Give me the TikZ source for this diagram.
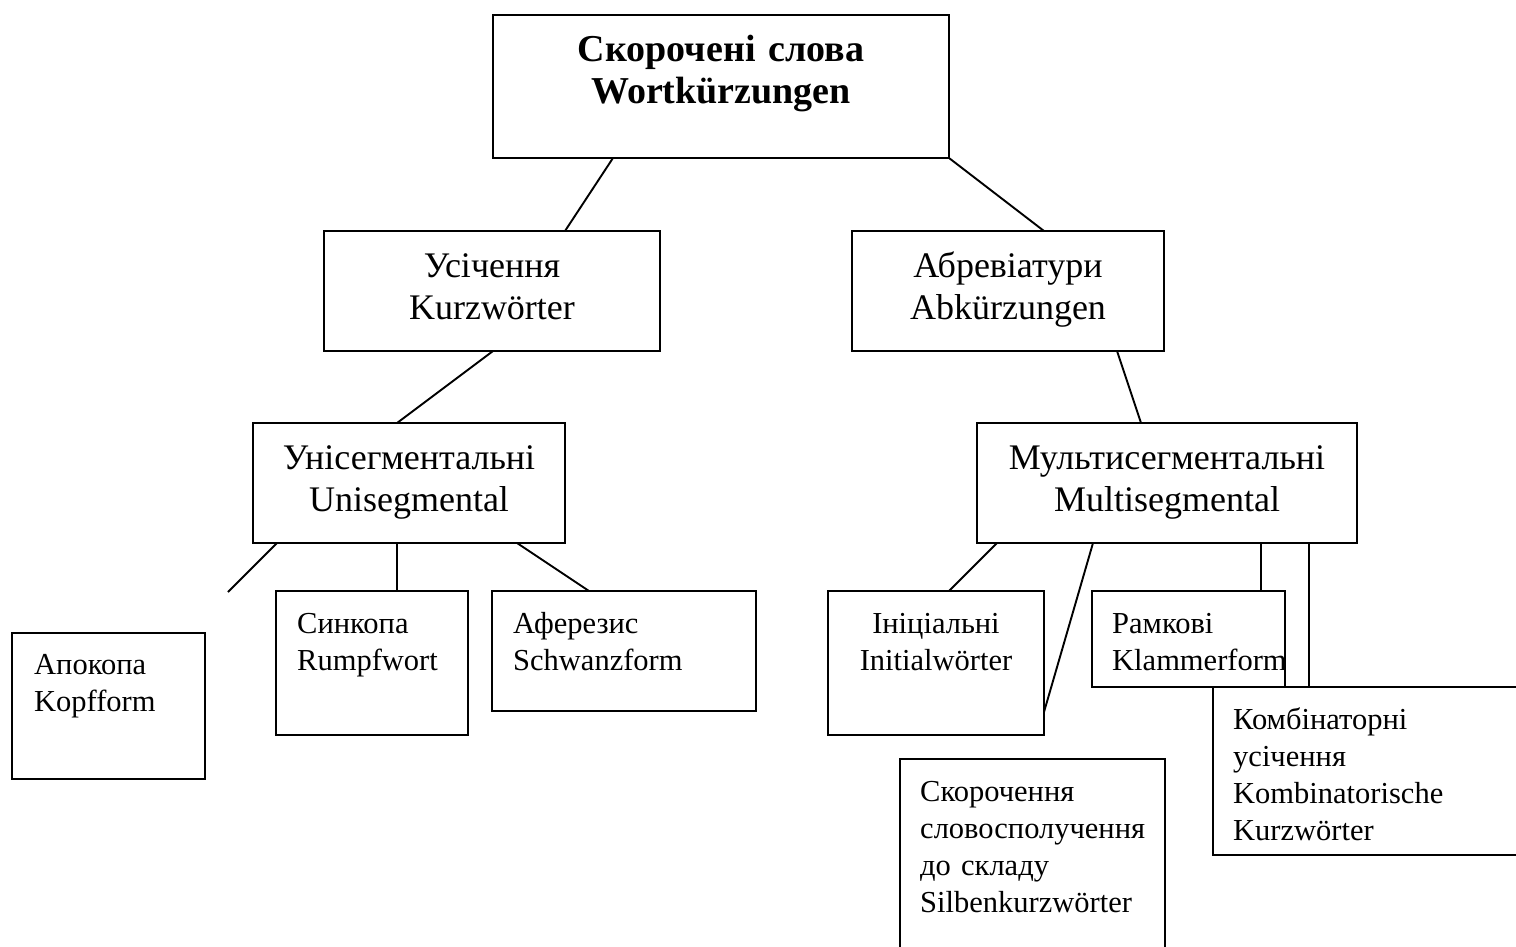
\documentclass[tikz,border=0pt]{standalone}
\usepackage{fontspec}
\setmainfont{Liberation Serif}
\begin{document}
\begin{tikzpicture}[x=1pt,y=-1pt]
\tikzstyle{box}= [rectangle,draw,line width=1.9pt,inner sep=0pt,outer sep=0pt,anchor=north west]
\tikzstyle{link}= [line width=1.9pt]
\tikzstyle{ctxt}= [inner sep=0pt,align=center,anchor=base]
\tikzstyle{ltxt}= [inner sep=0pt,text width=300pt,align=left,anchor=base west,font=\fontsize{30.5}{37}\selectfont]
\tikzstyle{mid}= [font=\fontsize{36}{42}\selectfont]

\useasboundingbox (0,0) rectangle (1516,947);

% boxes
\node[box,minimum width=456pt,minimum height=143pt] (top) at (493,15) {};
\node[box,minimum width=336pt,minimum height=120pt] (usich) at (324,231) {};
\node[box,minimum width=312pt,minimum height=120pt] (abbr) at (852,231) {};
\node[box,minimum width=312pt,minimum height=120pt] (uni) at (253,423) {};
\node[box,minimum width=380pt,minimum height=120pt] (multi) at (977,423) {};
\node[box,minimum width=193pt,minimum height=146pt] (apok) at (12,633) {};
\node[box,minimum width=192pt,minimum height=144pt] (synk) at (276,591) {};
\node[box,minimum width=264pt,minimum height=120pt] (afer) at (492,591) {};
\node[box,minimum width=216pt,minimum height=144pt] (init) at (828,591) {};
\node[box,minimum width=193pt,minimum height=96pt] (ramk) at (1092,591) {};
\node[box,minimum width=320pt,minimum height=168pt] (komb) at (1213,687) {};
\node[box,minimum width=265pt,minimum height=200pt] (skor) at (900,759) {};

% texts
\node[ctxt,text width=456pt,font=\bfseries\fontsize{38}{42}\selectfont] (topT)
	at ([yshift=-47pt]top.north) {Скорочені слова\\Wortkürzungen};
\node[ctxt,mid,text width=336pt] (usichT) at ([yshift=-46pt]usich.north) {Усічення\\Kurzwörter};
\node[ctxt,mid,text width=312pt] (abbrT) at ([yshift=-46pt]abbr.north) {Абревіатури\\Abkürzungen};
\node[ctxt,mid,text width=312pt] (uniT) at ([yshift=-46pt]uni.north) {Унісегментальні\\Unisegmental};
\node[ctxt,mid,text width=380pt] (multiT) at ([yshift=-46pt]multi.north) {Мультисегментальні\\Multisegmental};
\node[ctxt,text width=216pt,font=\fontsize{30.5}{37}\selectfont] (initT)
	at ([yshift=-42pt]init.north) {Ініціальні\\Initialwörter};
\node[ltxt] (apokT) at ([xshift=22pt,yshift=-41pt]apok.north west) {Апокопа\\Kopfform};
\node[ltxt] (synkT) at ([xshift=21pt,yshift=-42pt]synk.north west) {Синкопа\\Rumpfwort};
\node[ltxt] (aferT) at ([xshift=21pt,yshift=-42pt]afer.north west) {Аферезис\\Schwanzform};
\node[ltxt] (ramkT) at ([xshift=20pt,yshift=-42pt]ramk.north west) {Рамкові\\Klammerform};
\node[ltxt] (kombT) at ([xshift=20pt,yshift=-42pt]komb.north west)
	{Комбінаторні\\усічення\\Kombinatorische\\Kurzwörter};
\node[ltxt] (skorT) at ([xshift=20pt,yshift=-42pt]skor.north west)
	{Скорочення\\словосполучення\\до складу\\Silbenkurzwörter};

\coordinate (apokEnd) at (228,592);

% links
\draw[link] ([xshift=120pt]top.south west) -- ([xshift=241pt]usich.north west);
\draw[link] (top.south east) -- ([xshift=192pt]abbr.north west);
\draw[link] ([xshift=169pt]usich.south west) -- ([xshift=144pt]uni.north west);
\draw[link] ([xshift=265pt]abbr.south west) -- ([xshift=164pt]multi.north west);
\draw[link] ([xshift=24pt]uni.south west) -- (apokEnd);
\draw[link] ([xshift=144pt]uni.south west) -- ([xshift=121pt]synk.north west);
\draw[link] ([xshift=264pt]uni.south west) -- ([xshift=97pt]afer.north west);
\draw[link] ([xshift=20pt]multi.south west) -- ([xshift=121pt]init.north west);
\draw[link] ([xshift=116pt]multi.south west) -- ([yshift=23pt]init.south east);
\draw[link] ([xshift=284pt]multi.south west) -- ([xshift=169pt]ramk.north west);
\draw[link] ([xshift=332pt]multi.south west) -- ([xshift=96pt]komb.north west);
\end{tikzpicture}
\end{document}
